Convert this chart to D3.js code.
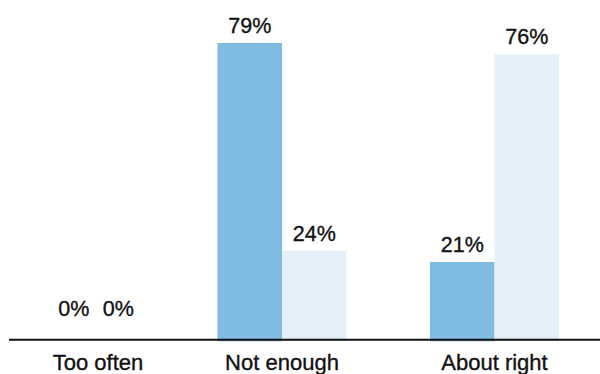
<!DOCTYPE html>
<html>
<head>
<meta charset="utf-8">
<script src="https://cdn.jsdelivr.net/npm/d3@7"></script>
<style>
  html, body { margin: 0; padding: 0; background: #fff; }
  svg { display: block; }
  text { font-family: "Liberation Sans", Arial, Helvetica, sans-serif; fill: #111; }
</style>
</head>
<body>
<svg id="chart" width="600" height="374"></svg>
<script>
// ---- data ----
const categories = ["Too often", "Not enough", "About right"];
const seriesNames = ["Series A", "Series B"];
const seriesA = [0, 79, 21];
const seriesB = [0, 24, 76];
const seriesColors = ["#80bbe1", "#e4f0f9"];

const W = 600, H = 374;
const svg = d3.select("#chart");

// group centers
const x = d3.scaleOrdinal().domain(categories).range([98, 282, 494.5]);
// within-group offsets
const xInner = d3.scaleBand().domain(seriesNames).range([-64.5, 64.5]).padding(0);
const y = d3.scaleLinear().domain([0, 79]).range([341.3, 43]);

const rows = categories.map((c, i) => ({ cat: c, vals: [seriesA[i], seriesB[i]] }));

const g = svg.append("g");
rows.forEach(r => {
  r.vals.forEach((v, j) => {
    const x0 = x(r.cat) + xInner(seriesNames[j]);
    if (v > 0) {
      g.append("rect")
        .attr("x", x0)
        .attr("y", y(v))
        .attr("width", xInner.bandwidth())
        .attr("height", y(0) - y(v))
        .attr("fill", seriesColors[j]);
    }
  });
});

// axis baseline
svg.append("line")
  .attr("x1", 9).attr("x2", W)
  .attr("y1", 339.7).attr("y2", 339.7)
  .attr("stroke", "#111").attr("stroke-width", 2);

// value labels
const zeroLabelOffset = [8, -12];
rows.forEach(r => {
  r.vals.forEach((v, j) => {
    const cx = x(r.cat) + xInner(seriesNames[j]) + xInner.bandwidth() / 2 + (v === 0 ? zeroLabelOffset[j] : 0);
    svg.append("text")
      .attr("x", cx)
      .attr("y", y(Math.max(v, 4)) - 10)
      .attr("text-anchor", "middle")
      .attr("font-size", 21.5)
      .attr("stroke", "#111").attr("stroke-width", 0.35)
      .text(v + "%");
  });
});

// category labels
categories.forEach(c => {
  svg.append("text")
    .attr("x", x(c))
    .attr("y", 370)
    .attr("text-anchor", "middle")
    .attr("font-size", 22)
    .attr("stroke", "#111").attr("stroke-width", 0.35)
    .text(c);
});
</script>
</body>
</html>
